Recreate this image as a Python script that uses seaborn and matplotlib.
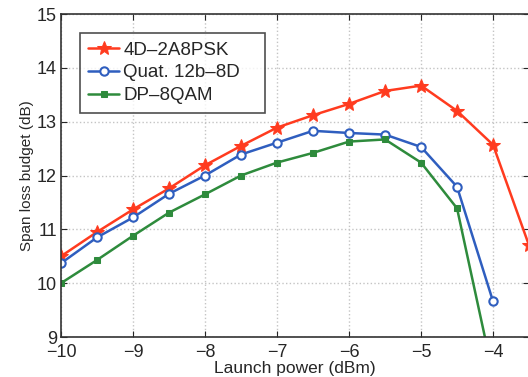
import numpy as np
import pandas as pd
import matplotlib
matplotlib.use("Agg")
import matplotlib.pyplot as plt
import seaborn as sns

power = [-10, -9.5, -9, -8.5, -8, -7.5, -7, -6.5, -6, -5.5, -5, -4.5, -4, -3.5]
psk = [10.5, 10.95, 11.37, 11.76, 12.19, 12.55, 12.89, 13.12, 13.33, 13.57, 13.67, 13.2, 12.57, 10.7]
quat = [10.37, 10.85, 11.22, 11.66, 12.0, 12.39, 12.61, 12.83, 12.79, 12.76, 12.53, 11.79, 9.66]
qam = [10.0, 10.43, 10.88, 11.31, 11.65, 12.0, 12.24, 12.42, 12.63, 12.67, 12.24, 11.39, 8.3]

names = ["4D\u20132A8PSK", "Quat. 12b\u20138D", "DP\u20138QAM"]
rows = []
for n, vals in zip(names, [psk, quat, qam]):
    for x, v in zip(power, vals):
        rows.append({"power": x, "budget": v, "series": n})
df = pd.DataFrame(rows)

sns.set_style("ticks")
plt.rcParams['font.family'] = ['Liberation Sans', 'DejaVu Sans']

fig = plt.figure(figsize=(5.28, 3.77), dpi=100)
ax = fig.add_axes([61/528, 1-337/377, (528-61)/528 + 0.002, (337-14)/377])

colors = {"4D\u20132A8PSK": "#ff3b1f", "Quat. 12b\u20138D": "#2f5ebf", "DP\u20138QAM": "#2e8b3c"}
markers = {"4D\u20132A8PSK": "*", "Quat. 12b\u20138D": "o", "DP\u20138QAM": "s"}
for n in names:
    sub = df[df.series == n]
    kw = dict(markersize=10) if n == names[0] else (dict(markersize=6, markerfacecolor="white", markeredgewidth=1.5) if n == names[1] else dict(markersize=5))
    sns.lineplot(data=sub, x="power", y="budget", ax=ax, color=colors[n], marker=markers[n],
                 markeredgecolor=colors[n], linewidth=1.8, label=n, **kw)

ax.set_xlim(-10, -3.5)
ax.set_ylim(9, 15)
ax.set_xticks([-10, -9, -8, -7, -6, -5, -4])
ax.set_xticklabels(["\u221210", "\u22129", "\u22128", "\u22127", "\u22126", "\u22125", "\u22124"])
ax.set_yticks([9, 10, 11, 12, 13, 14, 15])
ax.grid(True, linestyle=":", color="#c4c4c4", linewidth=1)
ax.tick_params(direction="in", labelsize=13, length=4, top=True, right=True, pad=3)
ax.tick_params(axis="x", pad=5)
for s in ax.spines.values():
    s.set_color("#333333")
    s.set_linewidth(1.2)
ax.set_xlabel("Launch power (dBm)", fontsize=12.5, labelpad=0)
ax.set_ylabel("Span loss budget (dB)", fontsize=11, labelpad=2)

leg = ax.legend(loc="upper left", bbox_to_anchor=(19/467, (337-110)/323, 185/467, 77/323),
                mode="expand", fontsize=13.5, frameon=True,
                fancybox=False, edgecolor="#222222", handlelength=1.65, borderpad=0.45,
                labelspacing=0.3, handletextpad=0.2, borderaxespad=0)
leg.get_frame().set_linewidth(1.2)

fig.savefig("out.png", dpi=100)
